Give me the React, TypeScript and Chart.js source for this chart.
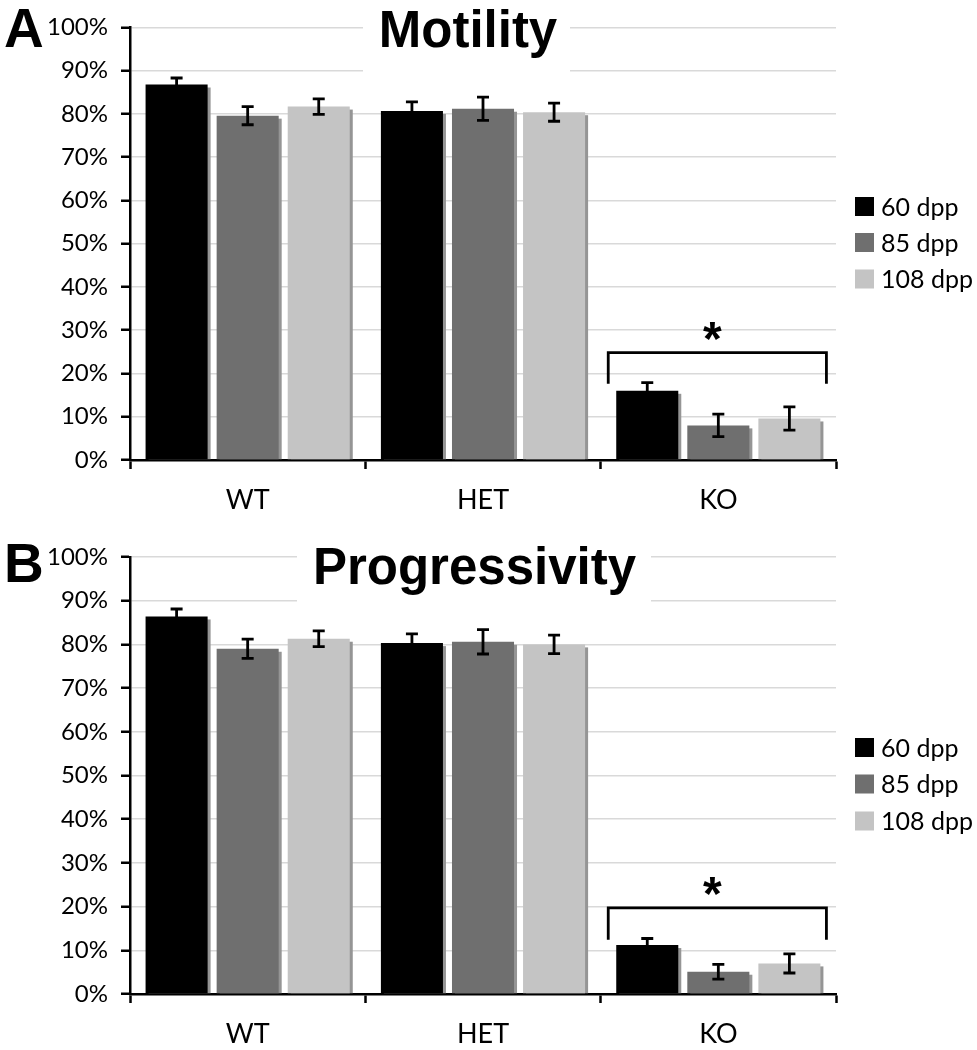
import React, { useEffect, useRef } from 'react';
import { Chart, registerables } from 'chart.js';

Chart.register(...registerables);

// ---------- data ----------
const categories = ['WT', 'HET', 'KO'];
const seriesNames = ['60 dpp', '85 dpp', '108 dpp'];
const seriesColors = ['#000000', '#6f6f6f', '#c4c4c4'];

const motility60 = [86.8, 80.7, 16.0];
const motility85 = [79.6, 81.2, 8.0];
const motility108 = [81.7, 80.4, 9.6];
const motility60Err = [1.5, 2.1, 1.9];
const motility85Err = [2.1, 2.7, 2.6];
const motility108Err = [1.8, 2.1, 2.7];

const progress60 = [86.4, 80.3, 11.2];
const progress85 = [79.0, 80.6, 5.1];
const progress108 = [81.3, 80.0, 7.0];
const progress60Err = [1.7, 2.1, 1.5];
const progress85Err = [2.2, 2.8, 1.7];
const progress108Err = [1.8, 2.1, 2.2];

const yMin = 0;
const yMax = 100;
const yStep = 10;

// significance bracket: [leg end, top] in %
const motilityBracket = [17.6, 24.8];
const progressBracket = [12.4, 19.7];
const bracketCategory = 2;

// ---------- styling ----------
const TICK_FONT = 'Lato, "Open Sans", sans-serif';
const TITLE_FONT = '"Liberation Sans", Arial, sans-serif';

type PanelProps = {
  letter: string;
  title: string;
  values: number[][];
  errors: number[][];
  bracket: number[];
  padTop: number;
  xAxisHeight: number;
  titleX: number;
  titleBaseline: number;
  boxX0: number;
  boxX1: number;
  boxBottom: number;
  letterBaseline: number;
  legendCenters: number[];
};

function Panel(p: PanelProps) {
  const ref = useRef<HTMLCanvasElement | null>(null);

  useEffect(() => {
    if (!ref.current) return;

    const decor = {
      id: 'decor',
      beforeDatasetsDraw(chart: any) {
        const ctx = chart.ctx;
        ctx.save();
        // white box behind the title
        ctx.fillStyle = '#ffffff';
        ctx.fillRect(p.boxX0, 0, p.boxX1 - p.boxX0, p.boxBottom);
        // bar drop shadows
        ctx.fillStyle = '#959595';
        chart.data.datasets.forEach((_: any, i: number) => {
          const meta = chart.getDatasetMeta(i);
          meta.data.forEach((bar: any) => {
            const { x, y, base, width } = bar.getProps(['x', 'y', 'base', 'width'], true);
            ctx.fillRect(x - width / 2 + 3, y + 3, width, base - y - 3);
          });
        });
        ctx.restore();
      },
      afterDatasetsDraw(chart: any) {
        const ctx = chart.ctx;
        const ys = chart.scales.y;
        ctx.save();
        ctx.strokeStyle = '#000';
        ctx.lineWidth = 2.8;
        ctx.lineCap = 'butt';
        // error bars
        chart.data.datasets.forEach((ds: any, i: number) => {
          const meta = chart.getDatasetMeta(i);
          meta.data.forEach((bar: any, j: number) => {
            const v = ds.data[j];
            const e = ds.errors[j];
            const x = bar.x;
            const yt = ys.getPixelForValue(v + e);
            const yb = ys.getPixelForValue(v - e);
            ctx.beginPath();
            ctx.moveTo(x, yt);
            ctx.lineTo(x, yb);
            ctx.moveTo(x - 6, yt);
            ctx.lineTo(x + 6, yt);
            ctx.moveTo(x - 6, yb);
            ctx.lineTo(x + 6, yb);
            ctx.stroke();
          });
        });
        // bracket
        const first = chart.getDatasetMeta(0).data[bracketCategory];
        const last = chart.getDatasetMeta(chart.data.datasets.length - 1).data[bracketCategory];
        const left = first.x - first.width / 2 - 8;
        const right = last.x + last.width / 2 + 6;
        const legY = ys.getPixelForValue(p.bracket[0]);
        const topY = ys.getPixelForValue(p.bracket[1]);
        ctx.lineJoin = 'miter';
        ctx.beginPath();
        ctx.moveTo(left, legY);
        ctx.lineTo(left, topY);
        ctx.lineTo(right, topY);
        ctx.lineTo(right, legY);
        ctx.stroke();
        // asterisk
        ctx.fillStyle = '#000';
        ctx.font = `bold 48px ${TITLE_FONT}`;
        ctx.textAlign = 'center';
        ctx.textBaseline = 'alphabetic';
        ctx.fillText('*', (left + right) / 2 - 5, topY - 25 + 27);
        ctx.restore();
      },
      afterDraw(chart: any) {
        const ctx = chart.ctx;
        ctx.save();
        ctx.fillStyle = '#000';
        // title
        ctx.font = `bold 51px ${TITLE_FONT}`;
        ctx.textAlign = 'center';
        ctx.textBaseline = 'alphabetic';
        ctx.fillText(p.title, p.titleX, p.titleBaseline);
        // panel letter
        ctx.font = `bold 55px ${TITLE_FONT}`;
        ctx.textAlign = 'left';
        ctx.fillText(p.letter, 4, p.letterBaseline);
        // legend
        ctx.font = `25px ${TICK_FONT}`;
        ctx.textBaseline = 'middle';
        seriesNames.forEach((name, i) => {
          const cy = p.legendCenters[i];
          ctx.fillStyle = seriesColors[i];
          ctx.fillRect(855, cy - 9.5, 19, 19);
          ctx.fillStyle = '#000';
          ctx.fillText(name, 881, cy + 1);
        });
        ctx.restore();
      },
    };

    const chart = new Chart(ref.current, {
      type: 'bar',
      data: {
        labels: categories,
        datasets: seriesNames.map((name, i) => ({
          label: name,
          data: p.values[i],
          errors: p.errors[i],
          backgroundColor: seriesColors[i],
          borderWidth: 0,
          barPercentage: 0.873,
          categoryPercentage: 0.906,
        })) as any,
      },
      options: {
        responsive: false,
        animation: false,
        events: [],
        layout: { padding: { top: p.padTop, right: 141, bottom: 0, left: 0 } },
        plugins: {
          legend: { display: false },
          title: { display: false },
          tooltip: { enabled: false },
        },
        scales: {
          x: {
            type: 'category',
            offset: true,
            border: { display: true, color: '#000', width: 2.5 },
            grid: {
              display: true,
              offset: true,
              drawOnChartArea: false,
              drawTicks: true,
              tickLength: 9,
              tickColor: '#000',
              tickWidth: 2.5,
            },
            ticks: {
              color: '#000',
              padding: 15,
              font: { family: TICK_FONT, size: 27 },
            },
            afterFit(scale: any) {
              scale.height = p.xAxisHeight;
            },
          },
          y: {
            min: yMin,
            max: yMax,
            border: { display: true, color: '#000', width: 2.5 },
            grid: {
              color: '#d9d9d9',
              lineWidth: 1.5,
              drawTicks: true,
              tickLength: 9,
              tickColor: '#000',
              tickWidth: 2.5,
            },
            ticks: {
              stepSize: yStep,
              color: '#000',
              padding: 13,
              font: { family: TICK_FONT, size: 24 },
              callback: (v: any) => `${v}%`,
            },
            afterFit(scale: any) {
              scale.width = 130;
            },
          },
        },
      } as any,
      plugins: [decor],
    });

    return () => chart.destroy();
  }, []);

  return <canvas ref={ref} width={977} height={525} style={{ display: 'block', width: 977, height: 525 }} />;
}

export default function App() {
  return (
    <div style={{ position: 'absolute', left: 0, top: 0, width: 977, height: 1050, background: '#fff' }}>
      <Panel
        letter="A"
        title="Motility"
        values={[motility60, motility85, motility108]}
        errors={[motility60Err, motility85Err, motility108Err]}
        bracket={motilityBracket}
        padTop={24}
        xAxisHeight={65}
        titleX={468}
        titleBaseline={47}
        boxX0={363}
        boxX1={570}
        boxBottom={80}
        letterBaseline={47}
        legendCenters={[206.5, 242.5, 279]}
      />
      <Panel
        letter="B"
        title="Progressivity"
        values={[progress60, progress85, progress108]}
        errors={[progress60Err, progress85Err, progress108Err]}
        bracket={progressBracket}
        padTop={32}
        xAxisHeight={56}
        titleX={474.5}
        titleBaseline={59}
        boxX0={297}
        boxX1={651}
        boxBottom={90}
        letterBaseline={57}
        legendCenters={[222.5, 259, 296]}
      />
    </div>
  );
}
